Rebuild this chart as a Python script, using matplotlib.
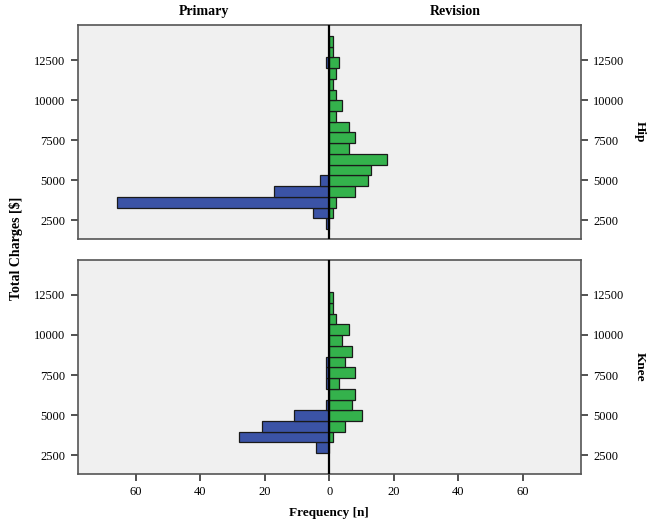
import numpy as np
import matplotlib
matplotlib.use("Agg")
import matplotlib.pyplot as plt
from matplotlib.ticker import FuncFormatter

# bin edges of the charge histogram ($)
bin_edges = [1950, 2620, 3290, 3960, 4630, 5300, 5970, 6640, 7310, 7980,
             8650, 9320, 9990, 10660, 11330, 12000, 12670, 13340, 14010]

# counts per bin, lowest bin first
hip_primary = [1, 5, 66, 17, 3, 0, 0, 0, 0, 0, 0, 0, 0, 0, 0, 1, 0, 0]
hip_revision = [0, 1, 2, 8, 12, 13, 18, 6, 8, 6, 2, 4, 2, 1, 2, 3, 1, 1]
knee_primary = [0, 4, 28, 21, 11, 1, 0, 1, 1, 1, 0, 0, 0, 0, 0, 0, 0, 0]
knee_revision = [0, 0, 1, 5, 10, 7, 8, 3, 8, 5, 7, 4, 6, 2, 1, 1, 0, 0]

panels = ["Hip", "Knee"]
group_labels = ["Primary", "Revision"]
y_ticks = [2500, 5000, 7500, 10000, 12500]
x_ticks = [-60, -40, -20, 0, 20, 40, 60]

blue = "#3b53a6"
green = "#34b24c"
bg = "#f0f0f0"

plt.rcParams["font.family"] = ["Liberation Serif", "DejaVu Serif"]

fig = plt.figure(figsize=(6.54, 5.29), dpi=100)
ax_top = fig.add_axes([0.119, 0.548, 0.769, 0.4045])
ax_bot = fig.add_axes([0.119, 0.104, 0.769, 0.4045])

edges = np.asarray(bin_edges, dtype=float)
lows = edges[:-1]
widths = np.diff(edges)

data = [(hip_primary, hip_revision), (knee_primary, knee_revision)]
for ax, (prim, rev), name in zip([ax_top, ax_bot], data, panels):
    ax.set_facecolor(bg)
    prim = np.asarray(prim, dtype=float)
    rev = np.asarray(rev, dtype=float)
    mp = prim > 0
    mr = rev > 0
    ax.barh(lows[mp], -prim[mp], height=widths[mp], align="edge",
            color=blue, edgecolor="#1a1a1a", linewidth=0.9, zorder=2)
    ax.barh(lows[mr], rev[mr], height=widths[mr], align="edge",
            color=green, edgecolor="#1a1a1a", linewidth=0.9, zorder=2)
    ax.axvline(0, color="black", linewidth=1.6, zorder=3)
    ax.set_xlim(-78, 78)
    ax.set_ylim(1320, 14680)
    ax.set_yticks(y_ticks)
    ax.tick_params(axis="y", which="both", left=True, right=True,
                   labelleft=True, labelright=True, direction="out",
                   length=5, width=1.2, pad=4, labelsize=9, color="#333333")
    for sp in ax.spines.values():
        sp.set_color("#555555")
        sp.set_linewidth(1.2)
    ax.text(1.117, 0.5, name, transform=ax.transAxes, rotation=-90,
            ha="center", va="center", fontsize=9.5, fontweight="bold")

ax_top.set_xticks([])
ax_bot.set_xticks(x_ticks)
ax_bot.xaxis.set_major_formatter(FuncFormatter(lambda v, p: f"{abs(int(v))}"))
ax_bot.tick_params(axis="x", direction="out", length=5, width=1.2, pad=4,
                   labelsize=9, color="#333333")
ax_bot.set_xlabel("Frequency [n]", fontsize=9.5, fontweight="bold", labelpad=6)

ax_top.text(0.25, 1.035, group_labels[0], transform=ax_top.transAxes,
            ha="center", va="bottom", fontsize=10, fontweight="bold")
ax_top.text(0.75, 1.035, group_labels[1], transform=ax_top.transAxes,
            ha="center", va="bottom", fontsize=10, fontweight="bold")

fig.text(0.024, 0.53, "Total Charges [$]", rotation=90, ha="center",
         va="center", fontsize=10, fontweight="bold")

fig.savefig("out.png", dpi=100, facecolor="white")
